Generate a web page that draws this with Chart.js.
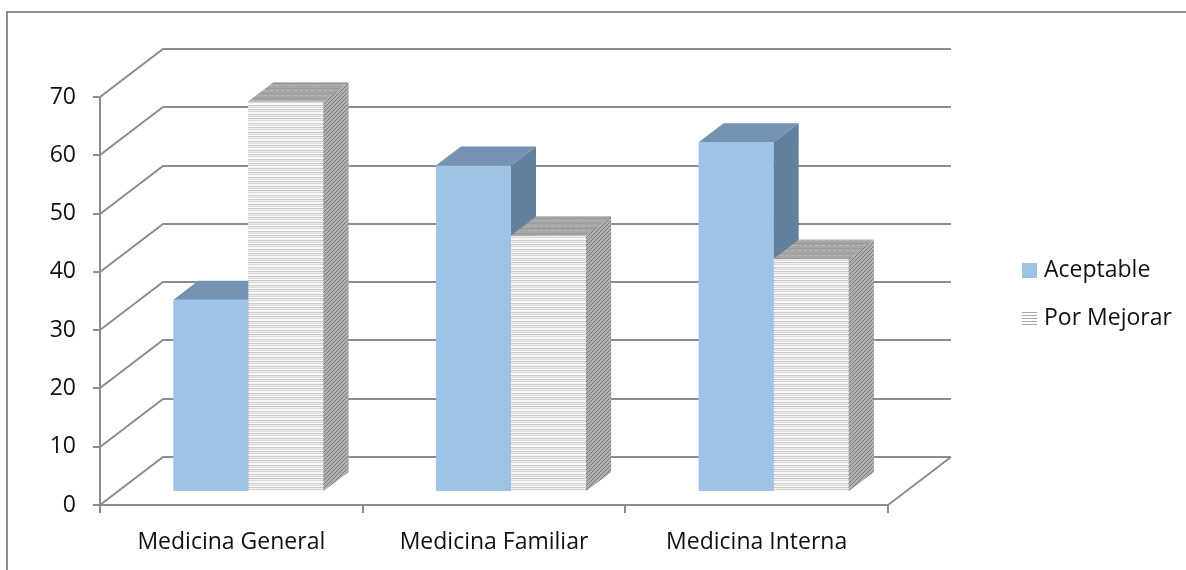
<!DOCTYPE html>
<html>
<head>
<meta charset="utf-8">
<script src="https://cdn.jsdelivr.net/npm/chart.js@4"></script>
<style>
  body { margin: 0; background: #fff; }
  canvas { display: block; }
</style>
</head>
<body>
<canvas id="chart" width="1186" height="570"></canvas>
<script>
// data
const categories = ['Medicina General', 'Medicina Familiar', 'Medicina Interna'];
const aceptable = [33, 56, 60];
const porMejorar = [67, 44, 40];
const yMin = 0, yMax = 70, yStep = 10;

const FONT = '"Open Sans", sans-serif';
const lineGray = '#8c8c8c';
const textColor = '#111';
const wallDepth = { x: 63, y: -48 };   // back wall offset of the 3d box
const barShift = { x: 17, y: -13 };    // bars sit a bit behind the front plane
const barDepth = { x: 25, y: -19 };

const canvas = document.getElementById('chart');
const mainCtx = canvas.getContext('2d');

function makePattern(w, h, paint) {
  const c = document.createElement('canvas');
  c.width = w; c.height = h;
  paint(c.getContext('2d'), w, h);
  return mainCtx.createPattern(c, 'repeat');
}

// horizontal stripes for "Por Mejorar" front faces
const stripes = makePattern(4, 9, (g, w) => {
  const rows = ['#f6f6f6', '#cdcdcd', '#ebebeb', '#dadada', '#fcfcfc', '#c6c6c6', '#efefef', '#d6d6d6', '#f7f7f7'];
  rows.forEach((c, i) => { g.fillStyle = c; g.fillRect(0, i, w, 1); });
});
// dark diagonal hatch for the sides
const hatch = makePattern(4, 4, (g) => {
  g.fillStyle = '#b0b0b0'; g.fillRect(0, 0, 4, 4);
  g.fillStyle = '#7a7a7a';
  for (let i = 0; i < 4; i++) g.fillRect(i, 3 - i, 1, 1);
});
// tops
const topTex = makePattern(6, 5, (g) => {
  g.fillStyle = '#a6a6a6'; g.fillRect(0, 0, 6, 5);
  g.fillStyle = '#9a9a9a'; g.fillRect(0, 1, 6, 1);
  g.fillStyle = '#b4b4b4'; g.fillRect(0, 3, 4, 1);
});

const faceStyles = [
  { top: '#7492b3', side: '#63809f' },
  { top: topTex, side: hatch }
];

function drawBoxFaces(ctx, bar, style) {
  const p = bar.getProps(['x', 'y', 'base', 'width'], true);
  const l = p.x - p.width / 2, r = p.x + p.width / 2;
  const dx = barDepth.x, dy = barDepth.y;
  ctx.fillStyle = style.top;
  ctx.beginPath();
  ctx.moveTo(l, p.y); ctx.lineTo(r, p.y); ctx.lineTo(r + dx, p.y + dy); ctx.lineTo(l + dx, p.y + dy);
  ctx.closePath(); ctx.fill();
  ctx.fillStyle = style.side;
  ctx.beginPath();
  ctx.moveTo(r, p.y); ctx.lineTo(r + dx, p.y + dy); ctx.lineTo(r + dx, p.base + dy); ctx.lineTo(r, p.base);
  ctx.closePath(); ctx.fill();
}

const box3d = {
  id: 'box3d',
  beforeDraw(chart) {
    const ctx = chart.ctx;
    ctx.save();
    ctx.strokeStyle = '#8f8f8f';
    ctx.lineWidth = 2;
    ctx.beginPath();
    ctx.moveTo(7, 570); ctx.lineTo(7, 12); ctx.lineTo(1186, 12);
    ctx.stroke();
    ctx.restore();
  },
  beforeDatasetsDraw(chart) {
    const ctx = chart.ctx;
    const ys = chart.scales.y;
    const { left, right } = chart.chartArea;
    ctx.save();
    ctx.strokeStyle = lineGray;
    ctx.lineWidth = 2;
    ys.ticks.forEach(t => {
      const py = Math.round(ys.getPixelForValue(t.value));
      ctx.beginPath();
      ctx.moveTo(left, py);
      ctx.lineTo(left + wallDepth.x, py + wallDepth.y);
      ctx.lineTo(right + wallDepth.x, py + wallDepth.y);
      ctx.stroke();
    });
    const py0 = Math.round(ys.getPixelForValue(yMin));
    ctx.beginPath();
    ctx.moveTo(right, py0);
    ctx.lineTo(right + wallDepth.x, py0 + wallDepth.y);
    ctx.stroke();
    ctx.restore();
  },
  beforeDatasetDraw(chart) {
    chart.ctx.save();
    chart.ctx.translate(barShift.x, barShift.y);
  },
  afterDatasetDraw(chart, args) {
    // chart.js paints the last dataset first, so once the first one is done
    // the boxes to its right are painted again on top of its side faces
    const ctx = chart.ctx;
    args.meta.data.forEach(bar => drawBoxFaces(ctx, bar, faceStyles[args.index]));
    if (args.index === 0) {
      for (let i = 1; i < chart.data.datasets.length; i++) {
        chart.getDatasetMeta(i).data.forEach(bar => {
          bar.draw(ctx);
          drawBoxFaces(ctx, bar, faceStyles[i]);
        });
      }
    }
    ctx.restore();
  },
  afterDraw(chart) {
    const ctx = chart.ctx;
    ctx.save();
    ctx.fillStyle = '#9dc3e6';
    ctx.fillRect(1022, 263, 15, 15);
    ctx.strokeStyle = '#a8a8a8';
    ctx.lineWidth = 1;
    for (let i = 0; i < 5; i++) {
      ctx.beginPath();
      ctx.moveTo(1022, 312.5 + i * 3);
      ctx.lineTo(1037, 312.5 + i * 3);
      ctx.stroke();
    }
    ctx.fillStyle = textColor;
    ctx.font = '23px ' + FONT;
    ctx.textBaseline = 'middle';
    ctx.fillText('Aceptable', 1044, 270);
    ctx.fillText('Por Mejorar', 1044, 318);
    ctx.restore();
  }
};

new Chart(canvas, {
  type: 'bar',
  data: {
    labels: categories,
    datasets: [{
      label: 'Aceptable',
      data: aceptable,
      backgroundColor: '#9dc3e6',
      borderWidth: 0,
      categoryPercentage: 2 / 3.5,
      barPercentage: 1
    }, {
      label: 'Por Mejorar',
      data: porMejorar,
      backgroundColor: stripes,
      borderWidth: 0,
      categoryPercentage: 2 / 3.5,
      barPercentage: 1
    }]
  },
  options: {
    responsive: false,
    animation: false,
    devicePixelRatio: 1,
    layout: { padding: { left: 0, top: 97, right: 298, bottom: 0 } },
    plugins: {
      legend: { display: false },
      tooltip: { enabled: false }
    },
    scales: {
      x: {
        afterFit(s) { s.height = 65; },
        grid: { offset: true, drawOnChartArea: false, color: lineGray, lineWidth: 2, tickLength: 8 },
        border: { color: lineGray, width: 2 },
        ticks: { color: textColor, padding: 16, font: { family: FONT, size: 23 } }
      },
      y: {
        min: yMin,
        max: yMax,
        afterFit(s) { s.width = 100; },
        grid: { drawOnChartArea: false, color: lineGray, lineWidth: 2, tickLength: 7 },
        border: { color: lineGray, width: 2 },
        ticks: { stepSize: yStep, color: textColor, padding: 17, font: { family: FONT, size: 23 } }
      }
    }
  },
  plugins: [box3d]
});
</script>
</body>
</html>
